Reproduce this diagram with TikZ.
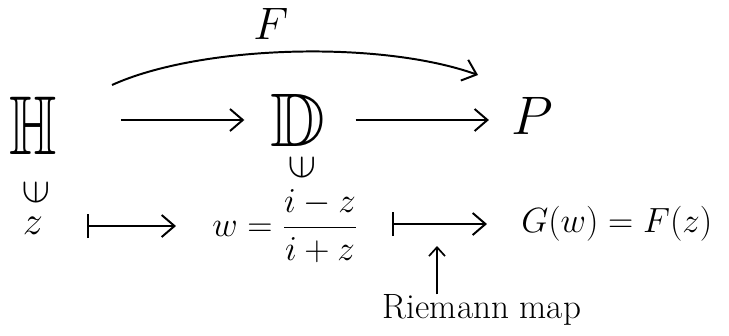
\documentclass[tikz,border=0pt]{standalone}
\usepackage{amsmath,amssymb}
\usepackage{graphicx}
\usetikzlibrary{arrows.meta,positioning}
\tikzset{
  bigset/.style={font=\fontsize{54}{58}\selectfont, inner sep=0pt},
  rowtext/.style={font=\fontsize{28}{32}\selectfont, inner sep=0pt},
  memb/.style={font=\fontsize{24}{26}\selectfont, inner sep=0pt},
  arr/.style={-{Straight Barb[length=3.2mm,width=5.5mm]}, line width=1.4pt},
  maparr/.style={{Bar[width=6mm]}-{Straight Barb[length=3.2mm,width=5.5mm]}, line width=1.4pt},
}
\newcommand{\vin}{\rotatebox[origin=c]{90}{\scalebox{1.2}{$\in$}}}
\begin{document}
\begin{tikzpicture}[x=0.025cm, y=-0.025cm]
    \useasboundingbox (0,0) rectangle (729,335);
    % top row: the three domains
    \node[bigset] (H) at (33,126) {\scalebox{0.8}[1.1]{$\mathbb{H}$}};
    \node[bigset] (D) at (298,120) {$\mathbb{D}$};
    \node[bigset] (P) at (532,116) {\scalebox{1.55}{$P$}};
    \draw[arr, shorten <=1.6cm, shorten >=0.65cm] (H.east |- D) -- (D.west);
    \draw[arr, shorten <=0.75cm, shorten >=0.55cm] (D.east) -- (D.east -| P.west);
    % composite map F over the top
    \coordinate (fstart) at (112,85);
    \coordinate (fend) at (478,75);
    \draw[arr] (fstart) .. controls (200,45) and (380,40) .. (fend)
        node[pos=0.45, above=9pt, inner sep=0pt, font=\fontsize{24}{26}\selectfont] (Flab) {\scalebox{1.3}{$F$}};
    % membership signs
    \node[memb] (inH) at (36,193) {\vin};
    \node[memb] (inD) at (302,168) {\vin};
    % bottom row: the elements
    \node[rowtext] (z) at (33,226) {\scalebox{1.15}{$z$}};
    \node[rowtext, anchor=west] (w) at (212,226) {$w=\dfrac{i-z}{i+z}$};
    \node[rowtext, anchor=west] (G) at (521,224) {$G(w)=F(z)$};
    \draw[maparr, shorten <=1.1cm, shorten >=0.9cm] (z.east) -- (z.east -| w.west);
    \draw[maparr, shorten <=0.85cm, shorten >=0.85cm] (w.east |- G.west) -- (G.west);
    % label under the second map
    \node[font=\fontsize{25}{27}\selectfont, inner sep=0pt] (riemann) at (482,310) {Riemann map};
    \coordinate (rtip) at (437,246);
    \draw[-{Straight Barb[length=2.2mm,width=4mm]}, line width=1.2pt] (riemann.north -| rtip) -- (rtip);
\end{tikzpicture}
\end{document}
